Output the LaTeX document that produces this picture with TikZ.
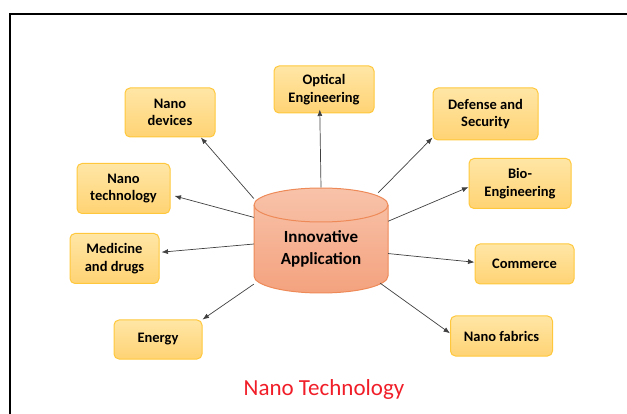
\documentclass[tikz,border=0pt]{standalone}
\usepackage{fontspec}
\setmainfont{Carlito}
\usetikzlibrary{arrows.meta}
\definecolor{boxtop}{HTML}{FFE6A6}
\definecolor{boxbot}{HTML}{FFD374}
\definecolor{boxline}{HTML}{FFC83C}
\definecolor{cyltop}{HTML}{F8C3AA}
\definecolor{cylbot}{HTML}{F4A27E}
\definecolor{cylline}{HTML}{EE8A58}
\definecolor{titlered}{HTML}{F01E28}
\begin{document}
\begin{tikzpicture}[x=1pt,y=-1pt,
		app/.style={rectangle,rounded corners=5pt,draw=boxline,line width=1pt,top color=boxtop,bottom color=boxbot,align=center,font=\fontsize{14.5}{17.5}\selectfont\bfseries,inner sep=2pt},
		core/.style={rectangle,minimum width=134pt,minimum height=106pt,inner sep=0pt},
		corelabel/.style={align=center,font=\fontsize{17}{22}\selectfont\bfseries,inner sep=0pt},
		link/.style={draw=black!75,line width=0.7pt,-{Latex[length=6.5pt,width=5pt]}}]
		\useasboundingbox (0,0) rectangle (627,414);
		\draw[line width=2.2pt] (10,416) -- (10,14) -- (630,14);

		% cylinder
		\node[core]									(cyl)	at (321,240.5)	{};
		\draw[cylline,line width=1pt,top color=cyltop,bottom color=cylbot]
			(254,205) -- (254,276) arc (180:360:67pt and 17pt) -- (388,205) arc (0:180:67pt and 17pt) -- cycle;
		\draw[cylline,line width=1pt] (254,205) arc (180:360:67pt and 17pt);
		\node[corelabel]								(cyllbl)	at (321,249)	{Innovative\\Application};

		\node[app,minimum width=100pt,minimum height=47pt]	(oe)	at (324,89.5)	{Optical\\Engineering};
		\node[app,minimum width=90pt,minimum height=49pt]	(nd)	at (170,112.5)	{Nano\\devices};
		\node[app,minimum width=105pt,minimum height=52pt]	(ds)	at (485.5,114)	{Defense and\\Security};
		\node[app,minimum width=93pt,minimum height=50pt]	(nt)	at (123.5,188.5)	{Nano\\technology};
		\node[app,minimum width=102pt,minimum height=50pt]	(be)	at (520,183.5)	{Bio-\\Engineering};
		\node[app,minimum width=89pt,minimum height=50pt]	(md)	at (114.5,258.5)	{Medicine\\and drugs};
		\node[app,minimum width=99pt,minimum height=40pt]	(cm)	at (524.5,264)	{Commerce};
		\node[app,minimum width=88pt,minimum height=39pt]	(en)	at (158,339.5)	{Energy};
		\node[app,minimum width=102pt,minimum height=40pt]	(nf)	at (501.5,336)	{Nano fabrics};

		\node[text=titlered,font=\fontsize{23}{26}\selectfont]	(ttl)	at (324,389)	{Nano Technology};

		\draw[link] (cyl.148) -- (nd.321);
		\draw[link] (cyl.90) -- ([yshift=4pt]oe.260);
		\draw[link] ([shift={(-10,5.5)}]cyl.north east) -- (ds.204);
		\draw[link] (cyl.161) -- ([xshift=4pt]nt.351);
		\draw[link] (cyl.16) -- (be.184);
		\draw[link] (cyl.183) -- ([xshift=2pt]md.8);
		\draw[link] (cyl.349) -- (cm.178);
		\draw[link] (cyl.213) -- (en.north east);
		\draw[link] ([shift={(-8,-10.5)}]cyl.south east) -- (nf.177);
	\end{tikzpicture}
\end{document}
